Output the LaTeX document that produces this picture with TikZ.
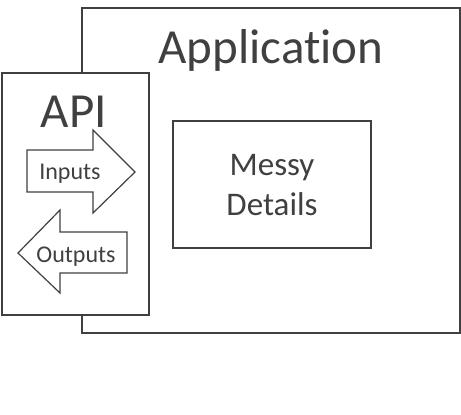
\documentclass[tikz,border=0pt]{standalone}
\usepackage{fontspec}
\setmainfont{Carlito}[Ligatures={NoCommon,NoRare}]
\definecolor{ink}{HTML}{404040}
\begin{document}
\begin{tikzpicture}[x=1pt,y=-1pt,
  box/.style={draw=ink,line width=2pt,fill=white},
  arr/.style={draw=ink,line width=1.2pt,fill=white,line join=miter},
  lbl/.style={text=ink,inner sep=0pt,align=center}]
\useasboundingbox (0,0) rectangle (461,415);
\node[box,minimum width=378pt,minimum height=325pt,anchor=north west] (app) at (81,7) {};
\node[lbl,font=\fontsize{49}{50}\selectfont,anchor=base] (apptxt) at (271,63) {Application};
\node[box,minimum width=198pt,minimum height=127pt,anchor=north west] (messy) at (172,120) {};
\node[lbl,font=\fontsize{33}{40}\selectfont] (messytxt) at ([yshift=-1pt]messy.center) {Messy\\Details};
\node[box,minimum width=147pt,minimum height=242pt,anchor=north west] (api) at (1,72) {};
\node[lbl,font=\fontsize{49}{50}\selectfont,anchor=base] (apitxt) at (74,127) {API};
\draw[arr] (27,150) -- (93,150) -- (93,130) -- (135,172) -- (93,213) -- (93,192) -- (27,192) -- cycle;
\node[lbl,font=\fontsize{24}{26}\selectfont,anchor=base] (inputs) at (70,179) {Inputs};
\draw[arr] (127,232) -- (60,232) -- (60,210) -- (18,253) -- (60,293) -- (60,273) -- (127,273) -- cycle;
\node[lbl,font=\fontsize{24}{26}\selectfont,anchor=base] (outputs) at (76,262) {Outputs};
\end{tikzpicture}
\end{document}
